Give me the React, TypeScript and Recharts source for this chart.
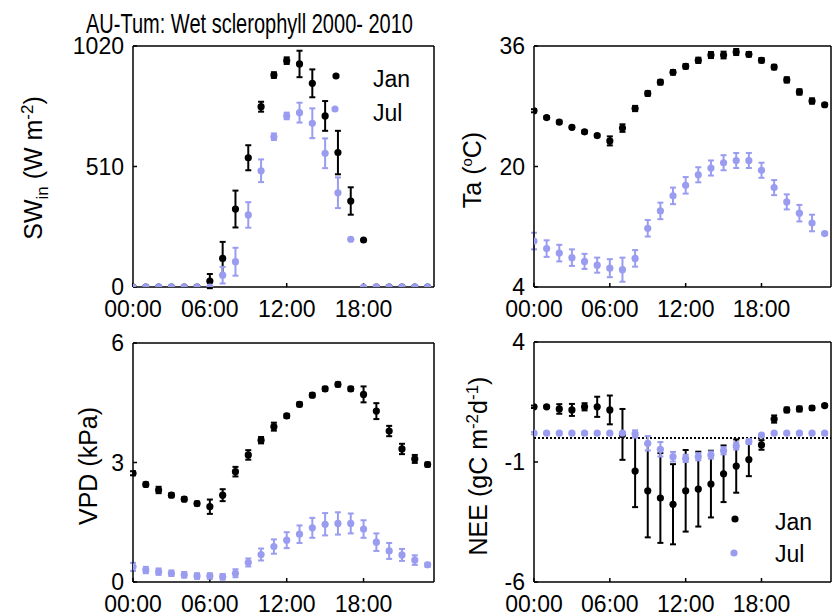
import React from "react";
import {
  ScatterChart,
  Scatter,
  XAxis,
  YAxis,
  ErrorBar,
  ReferenceLine,
} from "recharts";

const HOURS = [0, 1, 2, 3, 4, 5, 6, 7, 8, 9, 10, 11, 12, 13, 14, 15, 16, 17, 18, 19, 20, 21, 22, 23];
const HOUR_TICKS = [0, 6, 12, 18];
const HOUR_LABELS = ["00:00", "06:00", "12:00", "18:00"];

// SW_in (W m-2)
const swJan = [0, 0, 0, 0, 0, 0, 25, 121, 330, 547, 763, 897, 958, 944, 862, 724, 569, 364, 199, 0, 0, 0, 0, 0];
const swJanErr = [0, 0, 0, 0, 0, 0, 30, 70, 78, 53, 21, 12, 14, 56, 59, 63, 92, 58, 0, 0, 0, 0, 0, 0];
const swJul = [0, 0, 0, 0, 0, 0, 0, 50, 107, 305, 492, 636, 724, 738, 693, 566, 399, 202, 0, 0, 0, 0, 0, 0];
const swJulErr = [0, 0, 0, 0, 0, 0, 0, 35, 59, 54, 48, 14, 14, 42, 63, 63, 65, 0, 0, 0, 0, 0, 0, 0];

// Ta (degC)
const taJan = [27.4, 26.5, 25.9, 25.2, 24.6, 24.1, 23.4, 25.1, 27.7, 29.7, 31.2, 32.5, 33.3, 34.1, 34.8, 34.8, 35.2, 34.9, 34.1, 33.2, 31.5, 29.9, 28.7, 28.2];
const taJanErr = [0.2, 0.2, 0.2, 0.2, 0.2, 0.2, 0.6, 0.5, 0.35, 0.3, 0.3, 0.3, 0.3, 0.35, 0.4, 0.45, 0.4, 0.3, 0.3, 0.3, 0.35, 0.35, 0.35, 0.2];
const taJul = [10.1, 9.1, 8.5, 7.9, 7.4, 6.9, 6.5, 6.3, 7.8, 11.8, 14.1, 16.1, 17.5, 18.9, 19.8, 20.5, 20.8, 20.8, 19.5, 17.2, 15.3, 13.8, 12.5, 11.1];
const taJulErr = [1.1, 1.1, 1.1, 1.1, 1.0, 1.0, 1.2, 1.6, 1.1, 1.1, 1.1, 1.1, 1.1, 1.0, 1.0, 1.0, 1.0, 1.0, 1.0, 1.0, 1.0, 1.1, 1.1, 0.2];

// VPD (kPa)
const vpdJan = [2.73, 2.45, 2.31, 2.18, 2.08, 1.97, 1.89, 2.18, 2.77, 3.19, 3.56, 3.9, 4.17, 4.46, 4.69, 4.85, 4.96, 4.85, 4.71, 4.29, 3.79, 3.34, 3.09, 2.95];
const vpdJanErr = [0.05, 0.05, 0.08, 0.05, 0.05, 0.05, 0.18, 0.15, 0.12, 0.12, 0.08, 0.1, 0.05, 0.05, 0.05, 0.05, 0.05, 0.05, 0.2, 0.2, 0.13, 0.13, 0.1, 0.05];
const vpdJul = [0.38, 0.3, 0.26, 0.22, 0.18, 0.15, 0.15, 0.13, 0.22, 0.49, 0.69, 0.89, 1.05, 1.2, 1.36, 1.45, 1.47, 1.47, 1.33, 1.0, 0.78, 0.68, 0.55, 0.43];
const vpdJulErr = [0.1, 0.08, 0.08, 0.07, 0.07, 0.07, 0.07, 0.07, 0.1, 0.1, 0.15, 0.18, 0.2, 0.22, 0.25, 0.28, 0.28, 0.25, 0.22, 0.22, 0.2, 0.15, 0.12, 0.05];

// NEE (gC m-2 d-1)
const neeJan = [1.3, 1.3, 1.21, 1.17, 1.3, 1.3, 1.17, 0.15, -1.38, -2.2, -2.5, -2.76, -2.2, -2.13, -1.92, -1.49, -1.17, -0.9, -0.29, 0.79, 1.17, 1.21, 1.25, 1.35];
const neeJanErr = [0.05, 0.05, 0.2, 0.25, 0.15, 0.42, 0.6, 1.06, 1.5, 1.94, 1.87, 1.67, 1.7, 1.56, 1.39, 1.18, 1.11, 0.69, 0.2, 0.15, 0.1, 0.1, 0.08, 0.05];
const neeJul = [0.2, 0.2, 0.2, 0.2, 0.2, 0.2, 0.2, 0.2, 0.17, -0.22, -0.47, -0.78, -0.85, -0.78, -0.71, -0.53, -0.33, -0.15, 0.12, 0.2, 0.2, 0.2, 0.2, 0.2];
const neeJulErr = [0.05, 0.05, 0.05, 0.05, 0.05, 0.05, 0.05, 0.05, 0.15, 0.3, 0.3, 0.2, 0.15, 0.15, 0.15, 0.15, 0.15, 0.1, 0.05, 0.05, 0.05, 0.05, 0.05, 0.05];

const JAN_COLOR = "#000000";
const JUL_COLOR = "#9a9cf0";
const FONT = "'Liberation Sans', Arial, sans-serif";

const rows = (vals: number[], errs: number[]) =>
  HOURS.map((h, i) => ({ h, v: vals[i], e: errs[i] }));

const dot = (color: string) => (p: any) =>
  <circle cx={p.cx} cy={p.cy} r={3.6} fill={color} />;

const noDot = () => <g />;

const Y_W = 70;
const X_H = 44;
const M_TOP = 20;
const M_RIGHT = 4;

type PanelProps = {
  left: number;
  top: number;
  plotW: number;
  plotH: number;
  domain: [number, number];
  ticks: number[];
  jan: { h: number; v: number; e: number }[];
  jul: { h: number; v: number; e: number }[];
  zeroLine?: boolean;
};

const Panel = ({ left, top, plotW, plotH, domain, ticks, jan, jul, zeroLine }: PanelProps) => {
  const tickStyle = { fontSize: 23, fill: "#000", fontFamily: FONT };
  return (
    <div style={{ position: "absolute", left: left - Y_W, top: top - M_TOP }}>
      <ScatterChart
        width={Y_W + plotW + 1 + M_RIGHT}
        height={M_TOP + plotH + X_H}
        margin={{ top: M_TOP - 1, right: M_RIGHT, bottom: 0, left: 0 }}
      >
        <XAxis
          xAxisId="b"
          type="number"
          dataKey="h"
          domain={[0, 23.5]}
          ticks={HOUR_TICKS}
          tickFormatter={(h) => HOUR_LABELS[HOUR_TICKS.indexOf(h)]}
          allowDataOverflow
          height={X_H}
          tickSize={-4}
          tickMargin={18}
          tick={tickStyle}
          stroke="#000"
          strokeWidth={1.5}
          interval={0}
        />
        <XAxis
          xAxisId="t"
          orientation="top"
          type="number"
          dataKey="h"
          domain={[0, 23.5]}
          ticks={HOUR_TICKS}
          allowDataOverflow
          height={1}
          tickSize={-4}
          tick={false}
          stroke="#000"
          strokeWidth={1.5}
          interval={0}
        />
        <YAxis
          yAxisId="l"
          type="number"
          dataKey="v"
          domain={domain}
          ticks={ticks}
          allowDataOverflow
          width={Y_W}
          tickSize={-4}
          tickMargin={13}
          tick={tickStyle}
          stroke="#000"
          strokeWidth={1.5}
          interval={0}
        />
        <YAxis
          yAxisId="r"
          orientation="right"
          type="number"
          dataKey="v"
          domain={domain}
          ticks={ticks}
          allowDataOverflow
          width={1}
          tickSize={-4}
          tick={false}
          stroke="#000"
          strokeWidth={1.5}
          interval={0}
        />
        {zeroLine && (
          <ReferenceLine
            xAxisId="b"
            yAxisId="l"
            y={0}
            stroke="#000"
            strokeWidth={2}
            strokeDasharray="2 2"
          />
        )}
        {/* invisible series so the top and right frame axes get drawn */}
        <Scatter
          xAxisId="t"
          yAxisId="r"
          data={jan}
          dataKey="v"
          isAnimationActive={false}
          shape={noDot}
          legendType="none"
        />
        <Scatter
          xAxisId="b"
          yAxisId="l"
          data={jan}
          dataKey="v"
          isAnimationActive={false}
          shape={dot(JAN_COLOR)}
        >
          <ErrorBar dataKey="e" direction="y" width={3} stroke={JAN_COLOR} strokeWidth={2} />
        </Scatter>
        <Scatter
          xAxisId="b"
          yAxisId="l"
          data={jul}
          dataKey="v"
          isAnimationActive={false}
          shape={dot(JUL_COLOR)}
        >
          <ErrorBar dataKey="e" direction="y" width={3} stroke={JUL_COLOR} strokeWidth={2} />
        </Scatter>
      </ScatterChart>
    </div>
  );
};

const App = () => {
  return (
    <div
      style={{
        position: "absolute",
        left: 0,
        top: 0,
        width: 833,
        height: 616,
        overflow: "hidden",
        background: "#fff",
        fontFamily: FONT,
      }}
    >
      <Panel left={133} top={46} plotW={301} plotH={241} domain={[0, 1020]} ticks={[0, 510, 1020]}
        jan={rows(swJan, swJanErr)} jul={rows(swJul, swJulErr)} />
      <Panel left={534} top={46} plotW={297} plotH={241} domain={[4, 36]} ticks={[4, 20, 36]}
        jan={rows(taJan, taJanErr)} jul={rows(taJul, taJulErr)} />
      <Panel left={133} top={343} plotW={301} plotH={239} domain={[0, 6]} ticks={[0, 3, 6]}
        jan={rows(vpdJan, vpdJanErr)} jul={rows(vpdJul, vpdJulErr)} />
      <Panel left={534} top={342} plotW={297} plotH={240} domain={[-6, 4]} ticks={[-6, -1, 4]}
        jan={rows(neeJan, neeJanErr)} jul={rows(neeJul, neeJulErr)} zeroLine />

      <svg width={833} height={616} style={{ position: "absolute", left: 0, top: 0, pointerEvents: "none" }}
        fontFamily={FONT} fill="#000">
        <text x={86} y={33} fontSize={28} textLength={327} lengthAdjust="spacingAndGlyphs">
          AU-Tum: Wet sclerophyll 2000- 2010
        </text>

        <text transform="translate(42,168) rotate(-90)" textAnchor="middle" fontSize={25}>
          SW<tspan dy={6} fontSize={17}>in</tspan>
          <tspan dy={-6}> (W m</tspan>
          <tspan dy={-9} fontSize={17}>-2</tspan>
          <tspan dy={9}>)</tspan>
        </text>
        <text transform="translate(481,170) rotate(-90)" textAnchor="middle" fontSize={25}>
          Ta (<tspan dy={-9} fontSize={15}>o</tspan>
          <tspan dy={9}>C)</tspan>
        </text>
        <text transform="translate(97,466) rotate(-90)" textAnchor="middle" fontSize={25}>
          VPD (kPa)
        </text>
        <text transform="translate(487,466) rotate(-90)" textAnchor="middle" fontSize={25}>
          NEE (gC m<tspan dy={-9} fontSize={17}>-2</tspan>
          <tspan dy={9}>d</tspan>
          <tspan dy={-9} fontSize={17}>-1</tspan>
          <tspan dy={9}>)</tspan>
        </text>

        <circle cx={336} cy={76} r={3.6} fill={JAN_COLOR} />
        <text x={373} y={87} fontSize={23}>Jan</text>
        <circle cx={335} cy={109} r={3.6} fill={JUL_COLOR} />
        <text x={373} y={121} fontSize={23}>Jul</text>

        <circle cx={735} cy={519} r={3.6} fill={JAN_COLOR} />
        <text x={775} y={530} fontSize={23}>Jan</text>
        <circle cx={734} cy={553} r={3.6} fill={JUL_COLOR} />
        <text x={775} y={562} fontSize={23}>Jul</text>
      </svg>
    </div>
  );
};

export default App;
